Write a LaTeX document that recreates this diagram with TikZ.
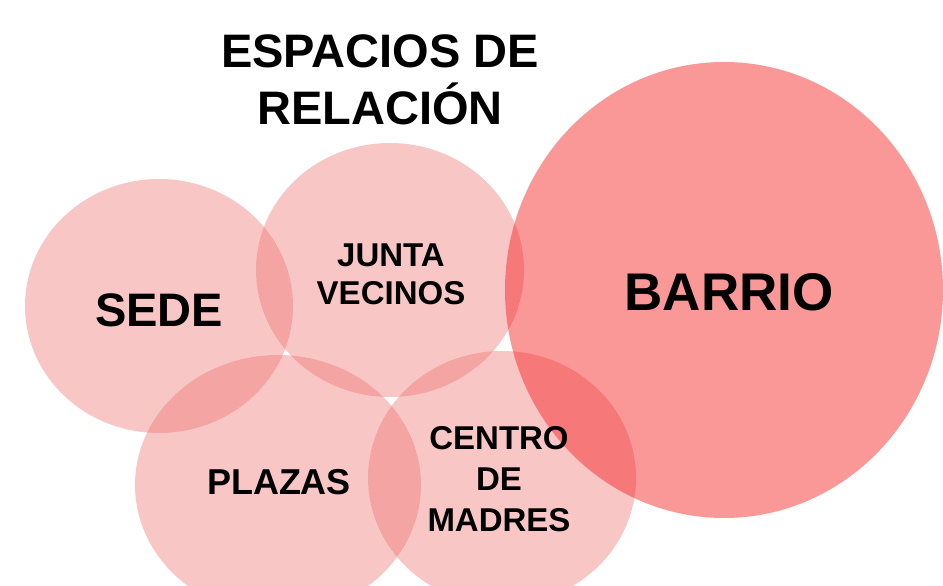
\documentclass[tikz,border=0pt]{standalone}
\usepackage{fontspec}
\setmainfont{Liberation Sans}
\usepackage{tikz}

\definecolor{rosa}{RGB}{240,113,113}
\definecolor{rojo}{RGB}{244,33,33}

\tikzset{
  zona/.style={fill=rosa, fill opacity=0.4},
  barrio/.style={fill=rojo, fill opacity=0.47},
  rotulo/.style={text=black, font=\bfseries, align=center, inner sep=0pt}
}

\begin{document}
\begin{tikzpicture}[x=1pt,y=-1pt]
            \useasboundingbox (0,0) rectangle (943,586);
            \clip (0,0) rectangle (943,586);

            % Draw the circles
            \fill[zona] (159,306) ellipse (134 and 127);   % sede
            \fill[zona] (390,270) ellipse (134 and 127);   % junta
            \fill[zona] (278,485) ellipse (143 and 130);   % plazas
            \fill[zona] (502,478) ellipse (134 and 127);   % centro
            \fill[barrio] (724,290) ellipse (219 and 228); % barrio

            % Draw the labels
            \node[rotulo, font=\bfseries\fontsize{47}{57}\selectfont] (titulo) at (380,80) {ESPACIOS DE\\RELACIÓN};
            \node[rotulo, font=\bfseries\fontsize{47}{57}\selectfont] (sede) at (159,310) {SEDE};
            \node[rotulo, font=\bfseries\fontsize{33}{38}\selectfont] (junta) at (391,274) {JUNTA\\VECINOS};
            \node[rotulo, font=\bfseries\fontsize{53}{60}\selectfont] (barrio) at (729,292) {BARRIO};
            \node[rotulo, font=\bfseries\fontsize{36}{42}\selectfont] (plazas) at (279,482) {PLAZAS};
            \node[rotulo, font=\bfseries\fontsize{33}{41}\selectfont] (centro) at (499,479) {CENTRO\\DE\\MADRES};
        \end{tikzpicture}
\end{document}
